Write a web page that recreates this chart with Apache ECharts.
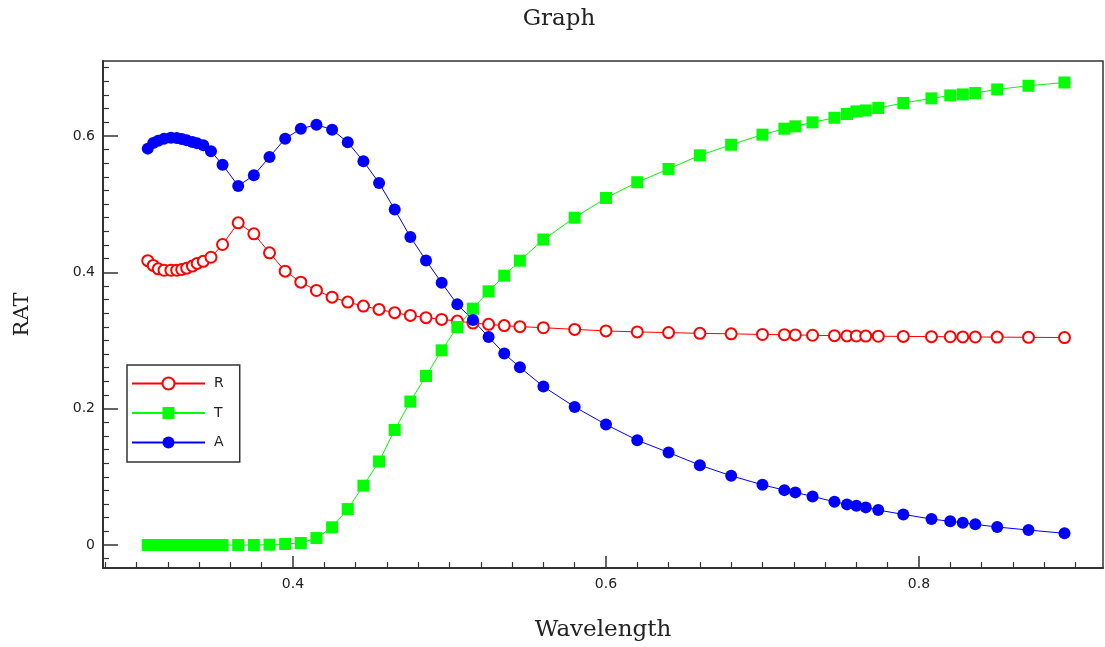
<!DOCTYPE html>
<html>
<head>
<meta charset="utf-8">
<script src="https://cdn.jsdelivr.net/npm/echarts@6/dist/echarts.min.js"></script>
<style>
html,body{margin:0;padding:0;background:#fff;}
#chart{width:1105px;height:647px;}
</style>
</head>
<body>
<div id="chart"></div>
<script>
// ---- data ----
const wavelength = [
  0.3072,0.3107,0.3139,0.3176,0.3220,0.3257,0.3289,0.3321,0.3357,0.3388,0.3427,0.3476,
  0.355,0.365,0.375,0.385,0.395,0.405,0.415,0.425,0.435,0.445,
  0.455,0.465,0.475,0.485,0.495,0.505,0.515,0.525,0.535,0.545,
  0.56,0.58,0.60,0.62,0.64,0.66,0.68,0.70,
  0.714,0.721,0.732,0.746,0.754,0.760,0.766,0.774,0.790,0.808,0.820,0.828,0.836,0.850,0.870,0.893
];
const seriesR = [
  0.417,0.410,0.405,0.403,0.403,0.403,0.404,0.406,0.409,0.413,0.416,0.422,
  0.4407,0.4725,0.4564,0.4285,0.4016,0.3855,0.3733,0.3635,0.3562,0.3504,
  0.3455,0.3407,0.3367,0.3334,0.3309,0.3284,0.3255,0.3236,0.3218,0.3202,
  0.3187,0.3162,0.3140,0.3125,0.3115,0.3104,0.3097,0.3088,
  0.3084,0.3081,0.3076,0.3070,0.3067,0.3065,0.3064,0.3062,0.3059,0.3056,0.3054,0.3052,0.3051,0.3049,0.3046,0.3042
];
const seriesT = [
  0,0,0,0,0,0,0,0,0,0,0,0,
  0,0,0,0.0005,0.0015,0.003,0.0102,0.026,0.0527,0.087,
  0.1225,0.1688,0.2104,0.2479,0.2855,0.3196,0.3466,0.372,0.395,0.417,
  0.448,0.48,0.509,0.532,0.5515,0.5715,0.587,0.6018,
  0.6105,0.614,0.6198,0.6266,0.6321,0.6359,0.6373,0.6408,0.6482,0.655,0.6593,0.6608,0.6628,0.6681,0.6735,0.6783
];
const seriesA = [
  0.5813,0.5896,0.5930,0.5959,0.5974,0.5969,0.5955,0.5934,0.5910,0.5890,0.5861,0.5773,
  0.5578,0.5266,0.5422,0.5691,0.5959,0.6105,0.6164,0.6091,0.5905,0.5627,
  0.5310,0.4919,0.4518,0.4173,0.3846,0.3529,0.3299,0.3050,0.2807,0.2606,
  0.2324,0.2025,0.1767,0.1537,0.1357,0.1171,0.1015,0.0883,
  0.0805,0.0772,0.0713,0.0634,0.0596,0.0575,0.0552,0.0512,0.0449,0.0381,0.0347,0.0326,0.0303,0.0264,0.0220,0.0171
];
const xTickLabels = [0.4, 0.6, 0.8];
const yTickLabels = [0, 0.2, 0.4, 0.6];

// ---- axis ranges / minor ticks ----
const xMin = 0.2786, xMax = 0.9176;
const yMin = -0.0337, yMax = 0.7098;
const xMinor = [], yMinor = [];
for (let i = 14; i <= 45; i++) { const v = +(i * 0.02).toFixed(2); if (xTickLabels.indexOf(v) < 0) xMinor.push(v); }
for (let i = -1; i <= 35; i++) { const v = +(i * 0.02).toFixed(2); if (yTickLabels.indexOf(v) < 0) yMinor.push(v); }

function pairs(ys) { return wavelength.map((x, i) => [x, ys[i]]); }

const axisColor = '#333';
const serif = 'DejaVu Serif';
const sans = 'DejaVu Sans';

const chart = echarts.init(document.getElementById('chart'));
chart.setOption({
  backgroundColor: '#fff',
  animation: false,
  title: {
    text: 'Graph', left: 554, top: 3, textAlign: 'center',
    textStyle: { fontFamily: serif, fontSize: 23, fontWeight: 'normal', color: '#222' }
  },
  grid: { left: 103, right: 2, top: 61, bottom: 77, show: true, borderColor: axisColor, borderWidth: 1.5, containLabel: false },
  legend: {
    orient: 'vertical', left: 127, top: 365,
    itemWidth: 73, itemHeight: 15, itemGap: 15.5,
    padding: [11.5, 16, 12.5, 4],
    borderColor: axisColor, borderWidth: 1.5, backgroundColor: '#fff',
    textStyle: { fontFamily: sans, fontSize: 14, color: '#222', padding: [0, 0, 0, 4] },
    data: ['R', 'T', 'A']
  },
  xAxis: [{
    type: 'value', min: xMin, max: xMax, position: 'bottom',
    name: 'Wavelength', nameLocation: 'middle', nameGap: 51,
    nameTextStyle: { fontFamily: serif, fontSize: 23, color: '#222' },
    axisLine: { show: true, onZero: false, lineStyle: { color: axisColor, width: 2 } },
    axisTick: { show: true, inside: true, length: 12, customValues: xTickLabels, lineStyle: { color: axisColor, width: 1.5 } },
    axisLabel: { show: true, margin: 9, customValues: xTickLabels, fontFamily: sans, fontSize: 14, color: '#222', formatter: v => v.toFixed(1) },
    splitLine: { show: false }
  }, {
    type: 'value', min: xMin, max: xMax, position: 'bottom',
    axisLine: { show: false, onZero: false },
    axisTick: { show: true, inside: true, length: 6, customValues: xMinor, lineStyle: { color: axisColor, width: 1.2 } },
    axisLabel: { show: false }, splitLine: { show: false }
  }],
  yAxis: [{
    type: 'value', min: yMin, max: yMax, position: 'left',
    name: 'RAT', nameLocation: 'middle', nameGap: 70, nameRotate: 90,
    nameTextStyle: { fontFamily: serif, fontSize: 21, color: '#222' },
    axisLine: { show: true, onZero: false, lineStyle: { color: axisColor, width: 2 } },
    axisTick: { show: true, inside: true, length: 15, customValues: yTickLabels, lineStyle: { color: axisColor, width: 1.5 } },
    axisLabel: { show: true, margin: 8, customValues: yTickLabels, fontFamily: sans, fontSize: 14, color: '#222', formatter: v => v === 0 ? '0' : v.toFixed(1) },
    splitLine: { show: false }
  }, {
    type: 'value', min: yMin, max: yMax, position: 'left',
    axisLine: { show: false, onZero: false },
    axisTick: { show: true, inside: true, length: 6, customValues: yMinor, lineStyle: { color: axisColor, width: 1.2 } },
    axisLabel: { show: false }, splitLine: { show: false }
  }],
  series: [{
    name: 'R', type: 'line', xAxisIndex: 0, yAxisIndex: 0, data: pairs(seriesR),
    symbol: 'emptyCircle', symbolSize: 11,
    lineStyle: { color: '#ff0000', width: 1 },
    itemStyle: { color: '#ff0000', borderColor: '#ff0000', borderWidth: 1.2 }
  }, {
    name: 'T', type: 'line', xAxisIndex: 0, yAxisIndex: 0, data: pairs(seriesT),
    symbol: 'rect', symbolSize: 12,
    lineStyle: { color: '#00ff00', width: 1 },
    itemStyle: { color: '#00ff00', borderWidth: 0 }
  }, {
    name: 'A', type: 'line', xAxisIndex: 0, yAxisIndex: 0, data: pairs(seriesA),
    symbol: 'circle', symbolSize: 12,
    lineStyle: { color: '#0000ff', width: 1 },
    itemStyle: { color: '#0000ff', borderWidth: 0 }
  }]
});
</script>
</body>
</html>
